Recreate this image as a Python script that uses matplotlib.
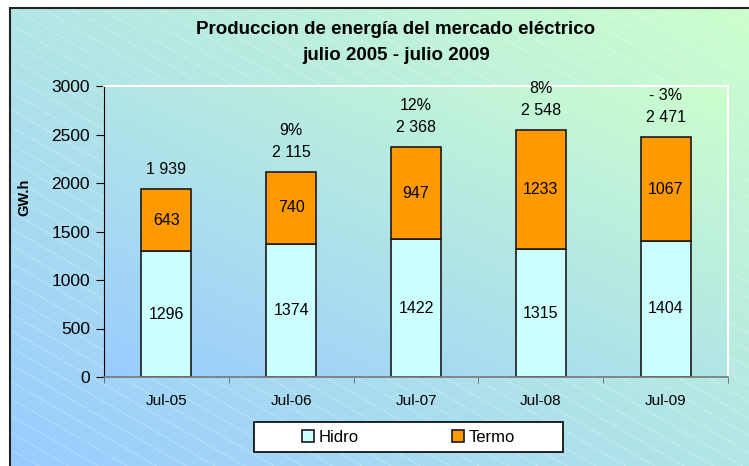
import numpy as np
import matplotlib
matplotlib.use("Agg")
import matplotlib.pyplot as plt
from matplotlib.colors import LinearSegmentedColormap
from matplotlib.patches import Rectangle
from matplotlib.lines import Line2D

plt.rcParams['font.family'] = ['Liberation Sans', 'DejaVu Sans']

categories = ["Jul-05", "Jul-06", "Jul-07", "Jul-08", "Jul-09"]
hidro = [1296, 1374, 1422, 1315, 1404]
termo = [643, 740, 947, 1233, 1067]
totals = [1939, 2115, 2368, 2548, 2471]
total_labels = ["1 939", "2 115", "2 368", "2 548", "2 471"]
pct_labels = ["", "9%", "12%", "8%", "- 3%"]
yticks = [0, 500, 1000, 1500, 2000, 2500, 3000]

W, H = 749, 466
fig = plt.figure(figsize=(W / 100, H / 100), dpi=100)
fig.patch.set_facecolor("white")

cmap = LinearSegmentedColormap.from_list("bg", ["#99CCFF", "#CCFFCC"])

def gradient(nx=200, ny=120):
    xx, yy = np.meshgrid(np.linspace(0, 1, nx), np.linspace(1, 0, ny))
    return (xx + yy) / 2.0

# chart area background
L, T = 10, 8
bw, bh = W - L, H - T
bg = fig.add_axes([L / W, 0, bw / W, bh / H])
bg.imshow(gradient(), cmap=cmap, aspect="auto", extent=[0, bw, 0, bh], vmin=0, vmax=1)
# faint diagonal texture lines
slope = 0.58
for c in np.arange(0, bh + slope * bw + 20, 17):
    xs = np.array([0, bw])
    bg.plot(xs, c - slope * xs, color="white", alpha=0.45, lw=0.6, ls=(0, (2, 1)))
bg.set_xlim(0, bw)
bg.set_ylim(0, bh)
bg.axis("off")
fig.add_artist(Line2D([L / W, L / W], [0, bh / H], color="#222222", lw=1.5))
fig.add_artist(Line2D([L / W, 1], [bh / H, bh / H], color="#222222", lw=1.5))

# plot area
x0, x1, y0, y1 = 104, 728, 86, 377
ax = fig.add_axes([x0 / W, (H - y1) / H, (x1 - x0) / W, (y1 - y0) / H])
ax.set_facecolor("none")
ax.imshow(gradient(), cmap=cmap, aspect="auto", extent=[0, 1, 0, 1],
          transform=ax.transAxes, vmin=0, vmax=1, zorder=0)

x = np.arange(len(categories))
ax.bar(x, hidro, width=0.4, color="#CCFFFF", edgecolor="#1a1a1a", lw=1.2, zorder=2, label="Hidro")
ax.bar(x, termo, width=0.4, bottom=hidro, color="#FF9900", edgecolor="#1a1a1a", lw=1.2, zorder=2, label="Termo")

fs = 11.5
for i in range(len(categories)):
    ax.text(x[i], hidro[i] / 2, str(hidro[i]), ha="center", va="center", fontsize=fs, zorder=3)
    ax.text(x[i], hidro[i] + termo[i] / 2, str(termo[i]), ha="center", va="center", fontsize=fs, zorder=3)
    ax.annotate(total_labels[i], (x[i], totals[i]), xytext=(0, 14), textcoords="offset points",
                ha="center", va="center", fontsize=fs, annotation_clip=False)
    if pct_labels[i]:
        ax.annotate(pct_labels[i], (x[i], totals[i]), xytext=(0, 30), textcoords="offset points",
                    ha="center", va="center", fontsize=fs, annotation_clip=False)

ax.set_xlim(-0.5, len(categories) - 0.5)
ax.set_ylim(0, 3000)
ax.set_yticks(yticks)
ax.set_yticklabels([str(v) for v in yticks], fontsize=12.5)
ax.set_xticks(x)
ax.set_xticklabels(categories, fontsize=11)
ax.set_xticks(np.arange(-0.5, len(categories)), minor=True)
ax.tick_params(axis="x", which="major", length=0, pad=12)
ax.tick_params(axis="x", which="minor", length=4, color="#666666", direction="out")
ax.tick_params(axis="y", length=6, color="black", direction="out", pad=4)

ax.spines["left"].set_color("black")
ax.spines["bottom"].set_color("#777777")
ax.spines["bottom"].set_linewidth(1.2)
ax.spines["top"].set_color("white")
ax.spines["right"].set_color("white")
ax.spines["top"].set_linewidth(1.5)
ax.spines["right"].set_linewidth(1.5)

fig.text(24 / W, 1 - 197 / H, "GW.h", rotation=90, ha="center", va="center",
         fontsize=10.5, fontweight="bold")

fig.text(396 / W, 1 - 30 / H, "Produccion de energía del mercado eléctrico",
         ha="center", va="center", fontsize=13.5, fontweight="bold")
fig.text(396 / W, 1 - 55 / H, "julio 2005 - julio 2009",
         ha="center", va="center", fontsize=13.5, fontweight="bold")

# legend
lx0, lx1, ly0, ly1 = 254, 563, 422, 452
fig.add_artist(Rectangle((lx0 / W, 1 - ly1 / H), (lx1 - lx0) / W, (ly1 - ly0) / H,
                         transform=fig.transFigure, facecolor="white", edgecolor="black", lw=1.2))
leg = fig.legend(loc="center", bbox_to_anchor=((lx0 + lx1) / 2 / W, 1 - (ly0 + ly1) / 2 / H),
                 ncol=2, frameon=False, fontsize=12, handlelength=0.7, handleheight=0.7,
                 handletextpad=0.3, columnspacing=5.6)

fig.savefig("out.png", dpi=100)
